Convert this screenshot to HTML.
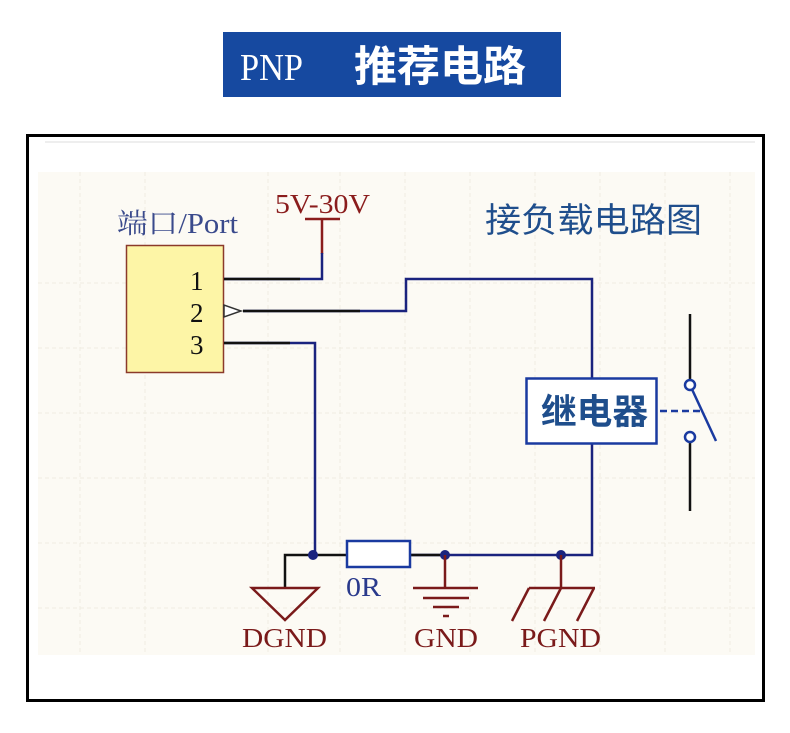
<!DOCTYPE html>
<html><head><meta charset="utf-8"><style>
html,body{margin:0;padding:0;background:#fff;}
svg{display:block;}
</style></head><body>
<svg width="790" height="733" viewBox="0 0 790 733" xmlns="http://www.w3.org/2000/svg">
<rect x="0" y="0" width="790" height="733" fill="#fff"/>
<rect x="223" y="32" width="338" height="65" fill="#1649a0"/>
<text x="240" y="80" font-family="Liberation Serif, serif" font-size="38" fill="#fff" textLength="63" lengthAdjust="spacingAndGlyphs">PNP</text>
<text x="354" y="81" font-family="Liberation Sans, 'Noto Sans CJK SC', sans-serif" font-size="42" font-weight="bold" fill="#fff" textLength="172" lengthAdjust="spacingAndGlyphs">推荐电路</text>
<rect x="27.5" y="135.5" width="736" height="565" fill="#fff" stroke="#000" stroke-width="3"/>
<rect x="38" y="172" width="717" height="483" fill="#fcfaf4"/>
<line x1="45" y1="142" x2="755" y2="142" stroke="#eee" stroke-width="2"/>
<g stroke="#efece2" stroke-width="1" stroke-dasharray="4 3">
<line x1="38" y1="283" x2="755" y2="283"/><line x1="38" y1="348" x2="755" y2="348"/>
<line x1="38" y1="413" x2="755" y2="413"/><line x1="38" y1="478" x2="755" y2="478"/>
<line x1="38" y1="543" x2="755" y2="543"/><line x1="38" y1="608" x2="755" y2="608"/>
<line x1="80" y1="172" x2="80" y2="655"/><line x1="145" y1="172" x2="145" y2="655"/>
<line x1="268" y1="172" x2="268" y2="655"/><line x1="340" y1="172" x2="340" y2="655"/>
<line x1="405" y1="172" x2="405" y2="655"/><line x1="470" y1="172" x2="470" y2="655"/>
<line x1="535" y1="172" x2="535" y2="655"/><line x1="600" y1="172" x2="600" y2="655"/>
<line x1="665" y1="172" x2="665" y2="655"/><line x1="730" y1="172" x2="730" y2="655"/>
</g>
<text x="117" y="233" font-family="Liberation Serif, 'Noto Serif CJK SC', serif" font-size="28" fill="#3a4a8c" textLength="121" lengthAdjust="spacingAndGlyphs">端口/Port</text>
<rect x="126.5" y="245.5" width="97" height="127" fill="#fdf5a6" stroke="#8b3a2a" stroke-width="1.5"/>
<g font-family="Liberation Serif, serif" font-size="27" fill="#111">
<text x="190" y="290">1</text><text x="190" y="322">2</text><text x="190" y="354">3</text>
</g>
<text x="275" y="213" font-family="Liberation Serif, serif" font-size="27" fill="#8a1c1c" textLength="95" lengthAdjust="spacingAndGlyphs">5V-30V</text>
<line x1="305" y1="219" x2="340" y2="219" stroke="#8a1c1c" stroke-width="2.5"/>
<line x1="322" y1="219" x2="322" y2="254" stroke="#8a1c1c" stroke-width="2.5"/>
<g fill="none" stroke-width="2.5">
<polyline points="224,279 322,279 322,253" stroke="#1a237e"/>
<line x1="224" y1="279" x2="300" y2="279" stroke="#111"/>
<polyline points="243,311 406,311 406,279 592,279 592,378" stroke="#1a237e"/>
<line x1="243" y1="311" x2="360" y2="311" stroke="#111"/>
<polyline points="224,343 315,343 315,555" stroke="#1a237e"/>
<line x1="224" y1="343" x2="290" y2="343" stroke="#111"/>
<polyline points="285,588 285,555 346,555" stroke="#111"/>
<polyline points="410,555 592,555 592,443" stroke="#1a237e"/>
<line x1="410" y1="555" x2="444" y2="555" stroke="#111"/>
</g>
<polygon points="224,305 224,317 241,311" fill="#fff" stroke="#333" stroke-width="1.5"/>
<rect x="347" y="541" width="63" height="26" fill="#fff" stroke="#1a3aa0" stroke-width="2.5"/>
<text x="346" y="596" font-family="Liberation Serif, serif" font-size="27" fill="#2a3a8c" textLength="35" lengthAdjust="spacingAndGlyphs">0R</text>
<circle cx="313" cy="555" r="5" fill="#1a237e"/>
<circle cx="445" cy="555" r="5" fill="#1a237e"/>
<circle cx="561" cy="555" r="5" fill="#1a237e"/>
<g stroke="#7a1a1a" stroke-width="2.5" fill="none">
<polygon points="252,588 318,588 285,620"/>
<line x1="445" y1="555" x2="445" y2="588"/>
<line x1="413" y1="588" x2="478" y2="588"/>
<line x1="423" y1="598" x2="469" y2="598"/>
<line x1="433" y1="607" x2="459" y2="607"/>
<line x1="443" y1="616" x2="449" y2="616"/>
<line x1="561" y1="555" x2="561" y2="588"/>
<line x1="529" y1="588" x2="595" y2="588"/>
<line x1="529" y1="588" x2="512" y2="621"/>
<line x1="561" y1="588" x2="544" y2="621"/>
<line x1="594" y1="588" x2="577" y2="621"/>
</g>
<g font-family="Liberation Serif, serif" font-size="27" fill="#7a1a1a">
<text x="242" y="647" textLength="85" lengthAdjust="spacingAndGlyphs">DGND</text>
<text x="414" y="647" textLength="64" lengthAdjust="spacingAndGlyphs">GND</text>
<text x="520" y="647" textLength="81" lengthAdjust="spacingAndGlyphs">PGND</text>
</g>
<text x="485" y="232" font-family="Liberation Sans, 'Noto Sans CJK SC', sans-serif" font-size="34" fill="#1f4e8c" textLength="217" lengthAdjust="spacingAndGlyphs">接负载电路图</text>
<rect x="526.5" y="378.5" width="130" height="65" fill="#fff" stroke="#1a3aa0" stroke-width="2.5"/>
<text x="541" y="424" font-family="Liberation Sans, 'Noto Sans CJK SC', sans-serif" font-size="35" font-weight="bold" fill="#1f4e8c" textLength="107" lengthAdjust="spacingAndGlyphs">继电器</text>
<line x1="660" y1="411" x2="702" y2="411" stroke="#1a3aa0" stroke-width="2.5" stroke-dasharray="7 4"/>
<line x1="690" y1="314" x2="690" y2="380" stroke="#111" stroke-width="2.5"/>
<line x1="690" y1="442" x2="690" y2="511" stroke="#111" stroke-width="2.5"/>
<line x1="690" y1="385" x2="716" y2="441" stroke="#1a3aa0" stroke-width="2.5"/>
<circle cx="690" cy="385" r="5" fill="#fff" stroke="#1a3aa0" stroke-width="2.5"/>
<circle cx="690" cy="437" r="5" fill="#fff" stroke="#1a3aa0" stroke-width="2.5"/>
</svg>
</body></html>
